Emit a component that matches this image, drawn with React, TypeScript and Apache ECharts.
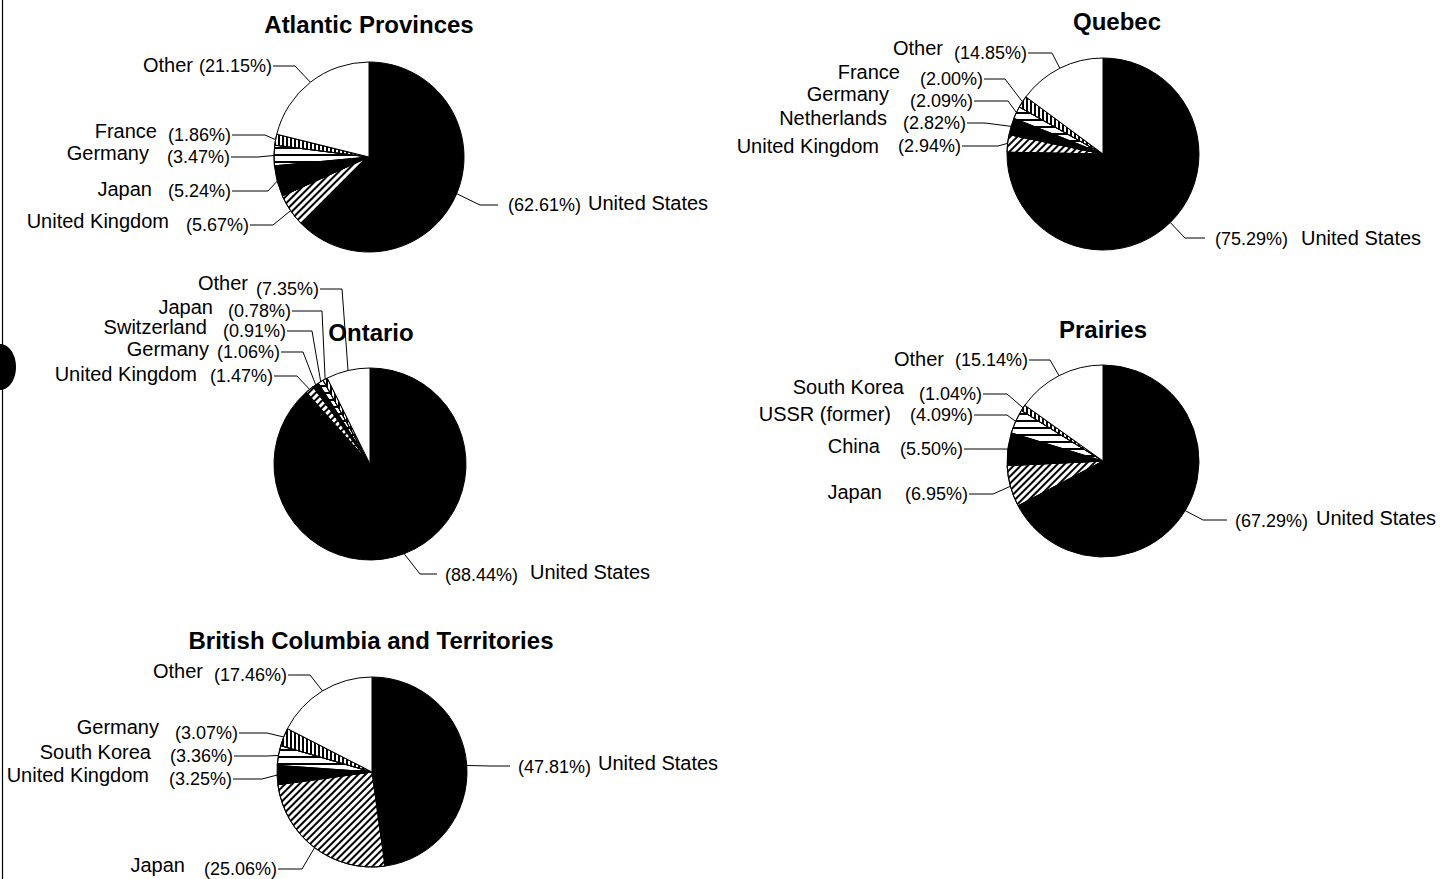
import { useEffect, useRef } from 'react';
import * as echarts from 'echarts';

// ---------- data ----------
const titles = ['Atlantic Provinces', 'Quebec', 'Ontario', 'Prairies', 'British Columbia and Territories'];

const atlanticNames = ['United States', 'United Kingdom', 'Japan', 'Germany', 'France', 'Other'];
const atlanticValues = [62.61, 5.67, 5.24, 3.47, 1.86, 21.15];

const quebecNames = ['United States', 'United Kingdom', 'Netherlands', 'Germany', 'France', 'Other'];
const quebecValues = [75.29, 2.94, 2.82, 2.09, 2.0, 14.85];

const ontarioNames = ['United States', 'United Kingdom', 'Germany', 'Switzerland', 'Japan', 'Other'];
const ontarioValues = [88.44, 1.47, 1.06, 0.91, 0.78, 7.35];

const prairiesNames = ['United States', 'Japan', 'China', 'USSR (former)', 'South Korea', 'Other'];
const prairiesValues = [67.29, 6.95, 5.5, 4.09, 1.04, 15.14];

const bcNames = ['United States', 'Japan', 'United Kingdom', 'South Korea', 'Germany', 'Other'];
const bcValues = [47.81, 25.06, 3.25, 3.36, 3.07, 17.46];

// ---------- layout / style ----------
const FONT = "'Liberation Sans', Arial, Helvetica, sans-serif";
const FILL_ORDER = ['black', 'diag', 'black', 'horiz', 'vert', 'white'];

const FILLS: Record<string, any> = {
  black: { color: '#000' },
  white: { color: '#fff' },
  diag: {
    color: '#fff',
    decal: { symbol: 'rect', symbolSize: 1, color: '#000', dashArrayX: [1, 0], dashArrayY: [2, 3], rotation: -Math.PI / 4 },
  },
  horiz: {
    color: '#fff',
    decal: { symbol: 'rect', symbolSize: 1, color: '#000', dashArrayX: [1, 0], dashArrayY: [1.5, 5], rotation: 0 },
  },
  vert: {
    color: '#fff',
    decal: { symbol: 'rect', symbolSize: 1, color: '#000', dashArrayX: [1, 0], dashArrayY: [2, 2], rotation: Math.PI / 2 },
  },
};

// label layout per slice: [textX, textY, elbowX, elbowY, lineEndX|null, gap, nameDy]
type LabelSpec = [number, number, number, number, number | null, number, number];

const PIES: { names: string[]; values: number[]; center: [number, number]; radius: number; title: [number, number]; labels: LabelSpec[] }[] = [
  {
    names: atlanticNames, values: atlanticValues, center: [369, 157], radius: 95, title: [369, 25],
    labels: [
      [508, 205, 480, 205, 498, 7, -2],
      [249, 225, 273, 225, null, 17, -4],
      [231, 191, 268, 191, null, 16, -2],
      [230, 157, 258, 157, null, 18, -4],
      [231, 135, 265, 135, null, 11, -4],
      [272, 66, 295, 66, null, 6, -1],
    ],
  },
  {
    names: quebecNames, values: quebecValues, center: [1103, 154], radius: 96, title: [1117, 22],
    labels: [
      [1215, 239, 1185, 238, 1205, 13, -1],
      [961, 146, 998, 146, null, 19, 0],
      [966, 123, 985, 123, null, 16, -5],
      [973, 101, 1008, 101, null, 21, -7],
      [983, 79, 1005, 79, null, 20, -7],
      [1027, 53, 1052, 53, null, 11, -5],
    ],
  },
  {
    names: ontarioNames, values: ontarioValues, center: [370, 464], radius: 96, title: [371, 333],
    labels: [
      [445, 575, 420, 574, 437, 12, -3],
      [273, 376, 297, 376, null, 13, -2],
      [280, 352, 303, 352, null, 8, -3],
      [286, 331, 312, 331, null, 16, -4],
      [291, 311, 322, 311, null, 15, -4],
      [319, 289, 342, 289, null, 8, -6],
    ],
  },
  {
    names: prairiesNames, values: prairiesValues, center: [1103, 461], radius: 96, title: [1103, 330],
    labels: [
      [1235, 521, 1203, 520, 1227, 8, -3],
      [968, 494, 993, 494, null, 23, -2],
      [963, 449, 1000, 449, null, 20, -3],
      [973, 415, 1007, 415, null, 19, -1],
      [982, 394, 1007, 394, null, 15, -7],
      [1028, 360, 1050, 360, null, 11, -1],
    ],
  },
  {
    names: bcNames, values: bcValues, center: [372, 772], radius: 95, title: [371, 641],
    labels: [
      [518, 767, 490, 766, 510, 7, -4],
      [277, 869, 302, 869, null, 19, -4],
      [232, 779, 262, 779, null, 20, -4],
      [233, 756, 267, 756, null, 19, -4],
      [238, 733, 267, 733, null, 16, -6],
      [287, 675, 310, 675, null, 11, -4],
    ],
  },
];

function buildSeries(k: number) {
  const p = PIES[k];
  const data = p.names.map((name, i) => ({ name, value: p.values[i], itemStyle: { ...FILLS[FILL_ORDER[i]] } }));
  const rich: Record<string, any> = {};
  p.labels.forEach((L, i) => {
    const gap = L[5];
    const nameDy = L[6];
    const right = i === 0;
    rich['n' + i] = {
      fontSize: 20, fontFamily: FONT, color: '#000', verticalAlign: 'middle',
      padding: [0, 0, Math.max(0, -2 * nameDy), right ? gap : 0],
    };
    rich['p' + i] = {
      fontSize: 18, fontFamily: FONT, color: '#000', verticalAlign: 'middle',
      padding: [0, 0, 0, right ? 0 : gap],
    };
  });
  return {
    type: 'pie',
    center: p.center,
    radius: p.radius,
    startAngle: 90,
    clockwise: true,
    avoidLabelOverlap: false,
    minShowLabelAngle: 0,
    silent: true,
    emphasis: { disabled: true },
    data,
    itemStyle: { borderColor: '#000', borderWidth: 1 },
    label: {
      show: true,
      position: 'outside',
      formatter: (prm: any) => {
        const i = prm.dataIndex;
        const pct = '(' + Number(prm.value).toFixed(2) + '%)';
        return i === 0 ? `{p${i}|${pct}}{n${i}|${prm.name}}` : `{n${i}|${prm.name}}{p${i}|${pct}}`;
      },
      rich,
    },
    labelLine: { show: true, length: 10, length2: 10, smooth: false, lineStyle: { color: '#000', width: 1 } },
    labelLayout: (prm: any) => {
      const i = prm.dataIndex;
      const [tx, ty, ex, ey, endX] = p.labels[i];
      const right = i === 0;
      const start = prm.labelLinePoints && prm.labelLinePoints[0] ? [prm.labelLinePoints[0][0], prm.labelLinePoints[0][1]] : [ex, ey];
      const lineEnd = endX != null ? endX : tx + 1;
      return {
        x: tx,
        y: ty,
        align: right ? 'left' : 'right',
        verticalAlign: 'middle',
        labelLinePoints: [start, [ex, ey], [lineEnd, ey]],
      };
    },
  };
}

export default function App() {
  const ref = useRef<HTMLDivElement>(null);
  useEffect(() => {
    if (!ref.current) return;
    const chart = echarts.init(ref.current, null, { renderer: 'svg' });
    chart.setOption({
      animation: false,
      backgroundColor: '#fff',
      title: PIES.map((p, k) => ({
        text: titles[k],
        left: p.title[0],
        top: p.title[1] - 13,
        textAlign: 'center',
        padding: 0,
        textStyle: { fontSize: 24, fontWeight: 'bold', fontFamily: FONT, color: '#000' },
      })),
      graphic: [
        { type: 'line', silent: true, shape: { x1: 2.5, y1: 0, x2: 2.5, y2: 879 }, style: { stroke: '#000', lineWidth: 1.2 } },
        { type: 'ellipse', silent: true, shape: { cx: 0, cy: 367, rx: 16, ry: 23 }, style: { fill: '#000' } },
      ],
      series: PIES.map((_, k) => buildSeries(k)),
    });
    return () => chart.dispose();
  }, []);
  return <div ref={ref} style={{ position: 'fixed', left: 0, top: 0, width: 1440, height: 879 }} />;
}
